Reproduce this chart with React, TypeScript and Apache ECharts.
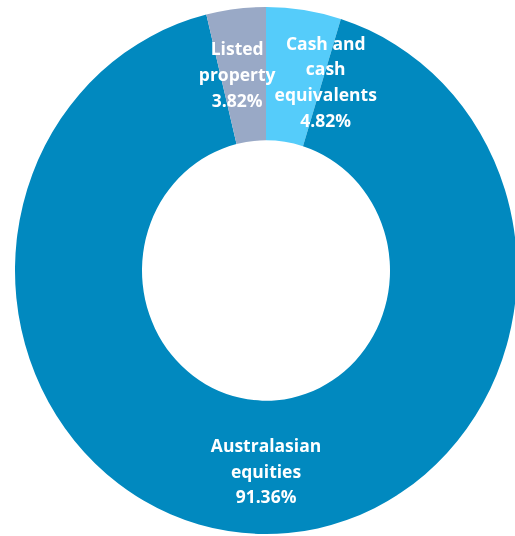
import React, { useEffect, useRef } from "react";
import * as echarts from "echarts";

const categories = ["Cash and\ncash\nequivalents", "Australasian\nequities", "Listed\nproperty"];
const values = [4.82, 91.36, 3.82];
const colors = ["#55CCFA", "#0189BF", "#99A9C6"];
const labelShift = [
  [31, 8],
  [6, 0],
  [-6, 2],
];

export default function App() {
  const ref = useRef<HTMLDivElement>(null);
  useEffect(() => {
    if (!ref.current) return;
    const chart = echarts.init(ref.current, null, { renderer: "svg" });
    chart.setOption({
      animation: false,
      series: [
        {
          type: "pie",
          center: [266, 270.5],
          radius: [124, 251],
          startAngle: 90,
          clockwise: true,
          silent: true,
          avoidLabelOverlap: false,
          data: categories.map((name, i) => ({
            name,
            value: values[i],
            itemStyle: { color: colors[i] },
          })),
          label: {
            show: true,
            position: "inside",
            formatter: (p: any) => `${p.name}\n${p.value.toFixed(2)}%`,
            color: "#ffffff",
            fontFamily: "Open Sans",
            fontWeight: "bold",
            fontSize: 17.5,
            lineHeight: 24.5,
            align: "center",
          },
          labelLine: { show: false },
          labelLayout: (p: any) => ({
            dx: labelShift[p.dataIndex][0],
            dy: labelShift[p.dataIndex][1],
          }),
        },
      ],
    });
    return () => chart.dispose();
  }, []);
  return (
    <div
      ref={ref}
      style={{
        position: "fixed",
        left: 0,
        top: 0,
        width: 515,
        height: 536,
        transform: "scaleY(1.05)",
        transformOrigin: "266px 270.5px",
      }}
    />
  );
}
